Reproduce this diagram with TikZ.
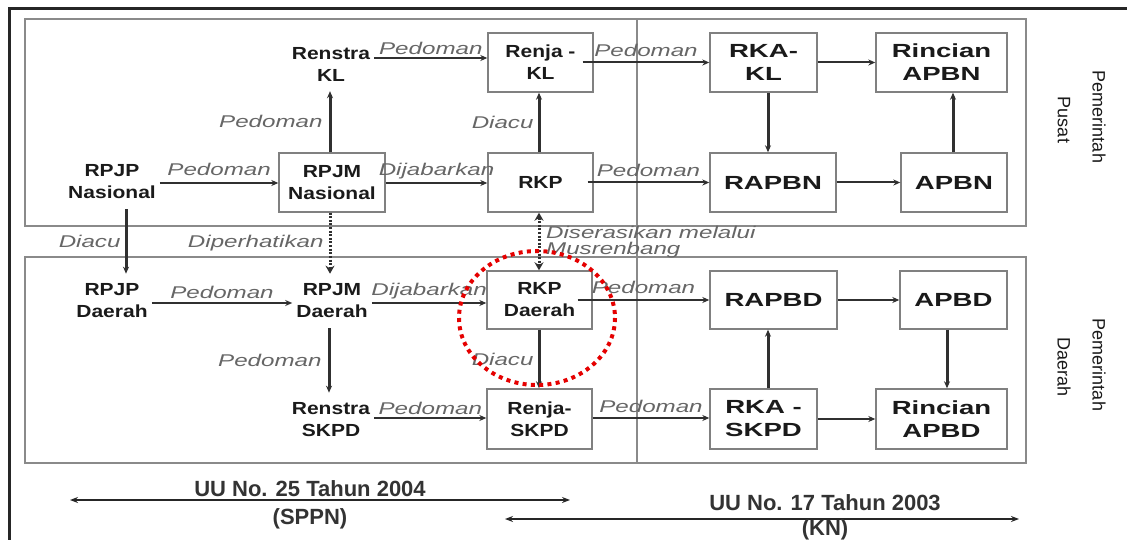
\documentclass[tikz,border=0pt]{standalone}
\usepackage{fontspec}
\setmainfont{Liberation Sans}
\newfontfamily\nfont[FakeStretch=1.2]{Liberation Sans}
\newfontfamily\rfont[FakeStretch=1.45]{Liberation Sans}
\newfontfamily\lfont[FakeStretch=1.42]{Liberation Sans}
\newfontfamily\sfont{Liberation Sans}
\usetikzlibrary{arrows.meta,calc}
\definecolor{boxc}{HTML}{808080}
\definecolor{panc}{HTML}{8A8A8A}
\definecolor{arrc}{HTML}{303030}
\definecolor{lblc}{HTML}{666666}
\definecolor{txtc}{HTML}{1A1A1A}
\definecolor{redc}{HTML}{E50000}
\tikzset{
  box/.style={draw=boxc, line width=1.4pt, inner sep=0pt, fill=white},
  lt/.style={font=\nfont\bfseries\fontsize{17.5}{22}\selectfont, text=txtc, align=center},
  rt/.style={font=\rfont\bfseries\fontsize{19}{23}\selectfont, text=txtc, align=center},
  plain/.style={lt, inner xsep=4pt, inner ysep=10pt},
  lbl/.style={font=\lfont\itshape\fontsize{17}{16}\selectfont, text=lblc, inner sep=1pt},
  arr/.style={draw=arrc, line width=2pt, -{Stealth[length=7pt,width=6pt]}},
  varr/.style={arr, line width=3pt},
  dotarr/.style={draw=arrc, line width=3pt, dash pattern=on 2pt off 1.6pt, -{Stealth[length=8pt,width=9pt]}},
  barr/.style={draw=black!85, line width=1.8pt, {Stealth[length=8pt,width=6pt]}-{Stealth[length=8pt,width=6pt]}},
  panel/.style={draw=panc, line width=1.6pt},
  side/.style={font=\sfont\fontsize{18}{20}\selectfont, text=txtc, inner sep=0pt},
  law/.style={font=\sfont\bfseries\fontsize{22}{24}\selectfont, text=black!80, inner sep=0pt},
  redring/.style={draw=redc, line width=4pt, dash pattern=on 4pt off 4.3pt}
}
\begin{document}
\begin{tikzpicture}[x=1pt,y=-1pt]
\useasboundingbox[fill=white] (0,0) rectangle (1127,540);
% frame
\draw[line width=3pt, black!85] (9,540) -- (9,9) -- (1127,9);
% panels
\draw[panel] (25,19) rectangle (1026,226);
\draw[panel] (25,257) rectangle (1026,463);
\draw[panel] (637,19) -- (637,463);

% ---- top (Pusat) ----
\node[plain] (renstrakl) at (331,64) {Renstra\\KL};
\node[plain] (rpjpn) at (112,182) {RPJP\\Nasional};
\node[box,lt,minimum width=106,minimum height=59] (rpjmn) at (332,182.5) {RPJM\\Nasional};
\node[box,lt,minimum width=105,minimum height=59] (renjakl) at (540.5,62.5) {Renja -\\KL};
\node[box,lt,minimum width=105,minimum height=59] (rkp) at (540.5,182.5) {RKP};
\node[box,rt,minimum width=107,minimum height=59] (rkakl) at (763.5,62.5) {RKA-\\KL};
\node[box,rt,minimum width=131,minimum height=59] (rincianapbn) at (941.5,62.5) {Rincian\\APBN};
\node[box,rt,minimum width=126,minimum height=59] (rapbn) at (773,182.5) {RAPBN};
\node[box,rt,minimum width=106,minimum height=59] (apbn) at (954,182.5) {APBN};

% ---- bottom (Daerah) ----
\node[plain] (rpjpd) at (112,301) {RPJP\\Daerah};
\node[plain] (rpjmd) at (332,301) {RPJM\\Daerah};
\node[plain] (renstraskpd) at (331,420) {Renstra\\SKPD};
\node[box,lt,minimum width=105,minimum height=58] (rkpd) at (539.5,300) {RKP\\Daerah};
\node[box,lt,minimum width=105,minimum height=60] (renjaskpd) at (539.5,419) {Renja-\\SKPD};
\node[box,rt,minimum width=127,minimum height=58] (rapbd) at (773.5,300) {RAPBD};
\node[box,rt,minimum width=107,minimum height=58] (apbd) at (953.5,300) {APBD};
\node[box,rt,minimum width=107,minimum height=60] (rkaskpd) at (763.5,419) {RKA -\\SKPD};
\node[box,rt,minimum width=131,minimum height=60] (rincianapbd) at (941.5,419) {Rincian\\APBD};

% ---- top connectors ----
\draw[arr] (renstrakl.east |- 0,58) -- node[lbl,above=1pt]{Pedoman} (renjakl.west |- 0,58);
\draw[varr] (rpjmn.north -| 330,0) -- node[lbl,left=5pt]{Pedoman} (renstrakl.south -| 330,0);
\draw[arr] (rpjpn.east |- 0,183) -- node[lbl,above=5pt]{Pedoman} (rpjmn.west |- 0,183);
\draw[arr] (rpjmn.east |- 0,183) -- node[lbl,above=2pt]{Dijabarkan} (rkp.west |- 0,183);
\draw[varr] (rkp.north -| 539,0) -- node[lbl,left=3pt]{Diacu} (renjakl.south -| 539,0);
\draw[arr] ([xshift=-11pt]renjakl.east) -- node[lbl,above=4pt]{Pedoman} (rkakl.west);
\draw[arr] ([xshift=-6pt]rkp.east) -- node[lbl,above=4pt]{Pedoman} (rapbn.west);
\draw[varr] (rkakl.south -| 768,0) -- (rapbn.north -| 768,0);
\draw[arr] (rkakl.east) -- (rincianapbn.west);
\draw[arr] (rapbn.east) -- (apbn.west);
\draw[varr] (apbn.north -| 953,0) -- (rincianapbn.south -| 953,0);

% ---- between panels ----
\draw[varr] (rpjpn.south -| 126,0) -- node[lbl,left=3pt]{Diacu} (rpjpd.north -| 126,0);
\draw[dotarr] (rpjmn.south -| 330,0) -- node[lbl,left=4pt]{Diperhatikan} (rpjmd.north -| 330,0);
\draw[dotarr, {Stealth[length=8pt,width=9pt]}-{Stealth[length=8pt,width=9pt]}] (rkp.south -| 539,0) -- (rkpd.north -| 539,0);
\node[lbl, anchor=west, align=left] (diser) at (545,242) {Diserasikan melalui\\Musrenbang};

% ---- bottom connectors ----
\draw[arr] (rpjpd.east |- 0,303) -- node[lbl,above=2pt]{Pedoman} (rpjmd.west |- 0,303);
\draw[arr] (rpjmd.east |- 0,303) -- node[lbl,above=2pt]{Dijabarkan} (rkpd.west |- 0,303);
\draw[varr] (rpjmd.south -| 329,0) -- node[lbl,left=5pt]{Pedoman} (renstraskpd.north -| 329,0);
\draw[varr] (rkpd.south -| 539,0) -- node[lbl,left=3pt]{Diacu} (renjaskpd.north -| 539,0);
\draw[arr] (renstraskpd.east |- 0,418) -- node[lbl,above=1pt]{Pedoman} (renjaskpd.west |- 0,418);
\draw[arr] (renjaskpd.east |- 0,418) -- node[lbl,above=3pt]{Pedoman} (rkaskpd.west |- 0,418);
\draw[arr] ([xshift=-15pt]rkpd.east) -- node[lbl,above=4pt]{Pedoman} (rapbd.west);
\draw[arr] (rapbd.east) -- (apbd.west);
\draw[varr] (rkaskpd.north -| 768,0) -- (rapbd.south -| 768,0);
\draw[varr] (apbd.south -| 947,0) -- (rincianapbd.north -| 947,0);
\draw[arr] (rkaskpd.east) -- (rincianapbd.west);

% red highlight
\draw[redring] (537,318) ellipse [x radius=78, y radius=67];

% side labels
\node[side, rotate=-90] (pem1) at (1099,117) {Pemerintah};
\node[side, rotate=-90] (pusat) at (1064,120) {Pusat};
\node[side, rotate=-90] (pem2) at (1099,365) {Pemerintah};
\node[side, rotate=-90] (daerah) at (1064,367) {Daerah};

% laws
\coordinate (la) at (70,500);
\coordinate (lb) at (570,500);
\draw[barr] (la) -- (lb);
\node[law] (uu25) at (310,489) {UU No. 25 Tahun 2004};
\node[law] (sppn) at (310,519) {(SPPN)};
\coordinate (ka) at (505,519);
\coordinate (kb) at (1019,519);
\draw[barr] (ka) -- (kb);
\node[law] (uu17) at (825,503) {UU No. 17 Tahun 2003};
\node[law] (kn) at (825,530) {(KN)};
\end{tikzpicture}
\end{document}
